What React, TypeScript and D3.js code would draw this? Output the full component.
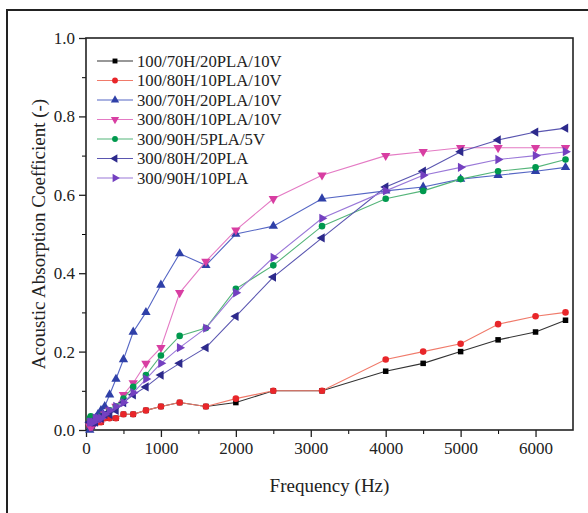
import React, { useEffect, useRef } from 'react';
import * as d3 from 'd3';

// frequencies (Hz) of the measured points
const freqs = [50, 63, 80, 100, 125, 160, 200, 250, 315, 400, 500, 630, 800, 1000, 1250, 1600, 2000, 2500, 3150, 4000, 4500, 5000, 5500, 6000, 6400];

const s100_70H_20PLA_10V = [0.01, 0.01, 0.01, 0.02, 0.02, 0.02, 0.02, 0.03, 0.03, 0.03, 0.04, 0.04, 0.05, 0.06, 0.07, 0.06, 0.07, 0.10, 0.10, 0.15, 0.17, 0.20, 0.23, 0.25, 0.28];
const s100_80H_10PLA_10V = [0.01, 0.01, 0.01, 0.02, 0.02, 0.02, 0.02, 0.03, 0.03, 0.03, 0.04, 0.04, 0.05, 0.06, 0.07, 0.06, 0.08, 0.10, 0.10, 0.18, 0.20, 0.22, 0.27, 0.29, 0.30];
const s300_70H_20PLA_10V = [0.00, 0.01, 0.02, 0.02, 0.03, 0.04, 0.05, 0.06, 0.09, 0.13, 0.18, 0.25, 0.30, 0.37, 0.45, 0.42, 0.50, 0.52, 0.59, 0.61, 0.62, 0.64, 0.65, 0.66, 0.67];
const s300_80H_10PLA_10V = [0.01, 0.01, 0.01, 0.02, 0.02, 0.03, 0.03, 0.04, 0.05, 0.06, 0.09, 0.12, 0.17, 0.21, 0.35, 0.43, 0.51, 0.59, 0.65, 0.70, 0.71, 0.72, 0.72, 0.72, 0.72];
const s300_90H_5PLA_5V = [0.03, 0.035, 0.03, 0.03, 0.03, 0.03, 0.035, 0.04, 0.05, 0.06, 0.08, 0.11, 0.14, 0.19, 0.24, 0.26, 0.36, 0.42, 0.52, 0.59, 0.61, 0.64, 0.66, 0.67, 0.69];
const s300_80H_20PLA = [0.02, 0.02, 0.02, 0.02, 0.02, 0.03, 0.03, 0.04, 0.04, 0.05, 0.07, 0.09, 0.11, 0.14, 0.17, 0.21, 0.29, 0.39, 0.49, 0.62, 0.66, 0.71, 0.74, 0.76, 0.77];
const s300_90H_10PLA = [0.02, 0.02, 0.02, 0.02, 0.03, 0.03, 0.03, 0.04, 0.05, 0.06, 0.07, 0.095, 0.13, 0.17, 0.21, 0.26, 0.35, 0.44, 0.54, 0.61, 0.65, 0.67, 0.69, 0.70, 0.71];

const seriesNames = ['100/70H/20PLA/10V', '100/80H/10PLA/10V', '300/70H/20PLA/10V', '300/80H/10PLA/10V', '300/90H/5PLA/5V', '300/80H/20PLA', '300/90H/10PLA'];
const seriesValues = [s100_70H_20PLA_10V, s100_80H_10PLA_10V, s300_70H_20PLA_10V, s300_80H_10PLA_10V, s300_90H_5PLA_5V, s300_80H_20PLA, s300_90H_10PLA];

const xTicks = [0, 1000, 2000, 3000, 4000, 5000, 6000];
const yTicks = [0.0, 0.2, 0.4, 0.6, 0.8, 1.0];

// styling per series: line colour, marker colour, marker shape
const styles = [
  { line: '#333333', fill: '#000000', shape: 'square' },
  { line: '#f07a6a', fill: '#e8262a', shape: 'circle' },
  { line: '#5566c4', fill: '#2f40a8', shape: 'up' },
  { line: '#e47ac4', fill: '#d83ea2', shape: 'down' },
  { line: '#55b57a', fill: '#00994e', shape: 'diamond' },
  { line: '#5a56b0', fill: '#2d2a8c', shape: 'left' },
  { line: '#9a78d8', fill: '#7440c0', shape: 'right' },
];

const FONT = '"Liberation Serif", "Times New Roman", serif';

const App = () => {
  const ref = useRef<SVGSVGElement>(null);

  useEffect(() => {
    const W = 588, H = 513;
    const margin = { top: 38, right: 15, bottom: 83, left: 86 };
    const width = W - margin.left - margin.right;
    const height = H - margin.top - margin.bottom;

    const svg = d3.select(ref.current);
    svg.selectAll('*').remove();

    // outer figure frame
    svg.append('rect')
      .attr('x', 7).attr('y', 10).attr('width', 600).attr('height', 520)
      .attr('fill', 'none').attr('stroke', '#222').attr('stroke-width', 2);

    const g = svg.append('g').attr('transform', `translate(${margin.left},${margin.top})`);

    const x = d3.scaleLinear().domain([0, 6500]).range([0, width]);
    const y = d3.scaleLinear().domain([0, 1]).range([height, 0]);

    // minor ticks
    g.append('g')
      .attr('transform', `translate(0,${height})`)
      .call(d3.axisBottom(x).tickValues(d3.range(500, 6500, 1000)).tickSize(4).tickFormat(() => ''))
      .call(a => a.select('.domain').remove());
    g.append('g')
      .call(d3.axisLeft(y).tickValues(d3.range(0.1, 1, 0.2)).tickSize(4).tickFormat(() => ''))
      .call(a => a.select('.domain').remove());

    const xAxis = g.append('g')
      .attr('transform', `translate(0,${height})`)
      .call(d3.axisBottom(x).tickValues(xTicks).tickSize(7).tickPadding(5).tickFormat(d3.format('d')));
    const yAxis = g.append('g')
      .call(d3.axisLeft(y).tickValues(yTicks).tickSize(7).tickPadding(4).tickFormat(d3.format('.1f')));

    [xAxis, yAxis].forEach(a => {
      a.selectAll('text').attr('font-family', FONT).attr('font-size', 17).attr('fill', '#222');
      a.selectAll('line').attr('stroke', '#222').attr('stroke-width', 1.3);
      a.select('.domain').remove();
    });

    // plot frame
    g.append('rect')
      .attr('width', width).attr('height', height)
      .attr('fill', 'none').attr('stroke', '#222').attr('stroke-width', 1.6);

    const symbolFor = (shape: string, size: number) => {
      if (shape === 'square') return d3.symbol(d3.symbolSquare, size * 0.8)();
      if (shape === 'circle') return d3.symbol(d3.symbolCircle, size * 0.9)();
      if (shape === 'diamond') return d3.symbol(d3.symbolCircle, size * 0.9)();
      return d3.symbol(d3.symbolTriangle, size)();
    };
    const rotFor = (shape: string) =>
      shape === 'down' ? 180 : shape === 'left' ? -90 : shape === 'right' ? 90 : 0;

    const line = d3.line<number>()
      .x((_, i) => x(freqs[i]))
      .y(d => y(d));

    seriesValues.forEach((vals, si) => {
      const st = styles[si];
      g.append('path')
        .datum(vals)
        .attr('fill', 'none')
        .attr('stroke', st.line)
        .attr('stroke-width', 1.1)
        .attr('d', line);
      g.append('g').selectAll('path')
        .data(vals)
        .join('path')
        .attr('d', symbolFor(st.shape, 38))
        .attr('transform', (d, i) => `translate(${x(freqs[i])},${y(d)}) rotate(${rotFor(st.shape)})`)
        .attr('fill', st.fill);
    });

    // legend
    const legend = g.append('g').attr('transform', 'translate(11,23)');
    seriesNames.forEach((name, i) => {
      const st = styles[i];
      const row = legend.append('g').attr('transform', `translate(0,${i * 19.5})`);
      row.append('line').attr('x1', 0).attr('x2', 36).attr('stroke', st.line).attr('stroke-width', 1.2);
      row.append('path')
        .attr('d', symbolFor(st.shape, 30))
        .attr('transform', `translate(18,0) rotate(${rotFor(st.shape)})`)
        .attr('fill', st.fill);
      row.append('text')
        .attr('x', 40).attr('dy', '0.35em')
        .attr('font-family', FONT).attr('font-size', 16.7).attr('fill', '#222')
        .text(name);
    });

    // axis titles
    svg.append('text')
      .attr('x', margin.left + x(3250)).attr('y', 492)
      .attr('text-anchor', 'middle')
      .attr('font-family', FONT).attr('font-size', 19).attr('fill', '#222')
      .text('Frequency (Hz)');
    svg.append('text')
      .attr('transform', `translate(45,${margin.top + height / 2}) rotate(-90)`)
      .attr('text-anchor', 'middle')
      .attr('font-family', FONT).attr('font-size', 19).attr('fill', '#222')
      .text('Acoustic Absorption Coefficient (-)');
  }, []);

  return (
    <svg ref={ref} width={588} height={513}
      style={{ position: 'absolute', left: 0, top: 0, background: '#fff' }} />
  );
};

export default App;
